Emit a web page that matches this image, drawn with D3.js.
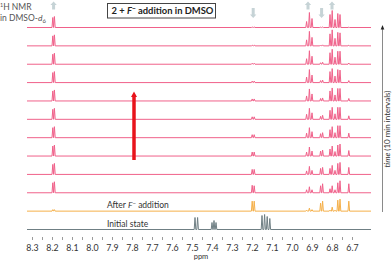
<!DOCTYPE html>
<html>
<head>
<meta charset="utf-8">
<script src="https://cdn.jsdelivr.net/npm/d3@7"></script>
<style>
  body { margin: 0; background: #fff; }
  svg { display: block; font-family: Lato, "Open Sans", sans-serif; }
</style>
</head>
<body>
<div id="chart"></div>
<script>
const width = 392, height = 260;

// axis
const tickLabels = [8.3, 8.2, 8.1, 8.0, 7.9, 7.8, 7.7, 7.6, 7.5, 7.4, 7.3, 7.2, 7.1, 7.0, 6.9, 6.8, 6.7];
const minorTicks = [8.25, 8.15, 8.05, 7.95, 7.85, 7.75, 7.65, 7.55, 7.45, 7.35, 7.25, 7.15, 7.05, 6.95, 6.85, 6.75];

// initial state (grey trace)
const initialPpm = [7.485, 7.472, 7.400, 7.390, 7.380, 7.150, 7.137, 7.124, 7.111];
const initialHeights = [12, 12, 7, 9, 7, 14, 15, 13, 11];

// peaks followed after F- addition (orange + pink traces)
const peakPpm = [8.196, 8.188, 7.199, 7.189, 6.927, 6.913, 6.900, 6.857, 6.847, 6.810, 6.799, 6.785, 6.771, 6.760, 6.716];
const afterAddition = [1.5, 1.5, 10, 10, 1, 3, 1.5, 8, 10, 1, 4, 1, 11, 12, 10];
// pink traces, 10 min apart, first to last
const timeHeights = [
  [10, 11, 7.5, 7, 3, 6, 3, 7, 9, 4, 7, 3, 10, 12, 9],
  [10, 11, 5, 5, 3.5, 8, 4, 6, 7, 6, 9, 4, 11, 12, 7],
  [10, 11, 4, 4, 4, 9, 5, 5, 6, 7, 10, 4.5, 11, 12, 5.5],
  [10, 11, 3, 3, 4.5, 10, 6, 4, 5, 8, 11, 5, 12, 12, 4.5],
  [10, 11, 2.5, 2.5, 5, 11, 6.5, 3, 4, 9, 12, 5.5, 12, 12, 3.5],
  [10, 11, 2, 2, 5, 12, 7, 2.5, 3, 10, 13, 6, 12.5, 12.5, 2.5],
  [10, 11, 1.5, 1.5, 5.5, 13, 7.5, 2, 2.5, 11, 14, 6.5, 13, 12.5, 2],
  [10, 11, 1, 1, 5.5, 13.5, 8, 1.5, 2, 11.5, 15, 7, 13, 13, 1.2],
  [10, 11, 0.7, 0.7, 6, 14.5, 8.5, 0.8, 1, 12, 16, 7.5, 13.5, 13, 0.6],
  [10, 11, 0.5, 0.5, 6, 15, 9, 0.3, 0.5, 13, 17, 8, 14, 13, 0.3]
];

// growing / shrinking signal markers
const growMarks = [8.192, 6.920, 6.800];
const shrinkMarks = [7.194, 6.852];

const traceNames = ["initial", "after"].concat(timeHeights.map((d, i) => "t" + (i + 1)));
const traceColor = name => name === "initial" ? "#6f7f84" : name === "after" ? "#f5b04a" : "#f0618a";

const x = d3.scaleLinear().domain([8.3, 6.7]).range([32, 352]);
const yBase = d3.scalePoint().domain(traceNames).range([229.5, 27.5]);
const amp = d3.scaleLinear().domain([0, 10]).range([0, 10]);
const ppmExtent = [8.325, 6.605];
const halfWidth = 0.004;

const svg = d3.select("#chart").append("svg")
  .attr("width", width)
  .attr("height", height);

function tracePoints(ppms, heights) {
  const peaks = ppms.map((p, i) => ({ p: p, h: heights[i] }))
    .sort((a, b) => b.p - a.p);
  const pts = [[ppmExtent[0], 0]];
  peaks.forEach(d => {
    pts.push([d.p + halfWidth, 0], [d.p, d.h], [d.p - halfWidth, 0]);
  });
  pts.push([ppmExtent[1], 0]);
  return pts;
}

const traces = [{ name: "initial", pts: tracePoints(initialPpm, initialHeights) },
  { name: "after", pts: tracePoints(peakPpm, afterAddition) }]
  .concat(timeHeights.map((h, i) => ({ name: "t" + (i + 1), pts: tracePoints(peakPpm, h) })));

svg.append("g").selectAll("path")
  .data(traces)
  .enter().append("path")
    .attr("fill", "none")
    .attr("stroke", d => traceColor(d.name))
    .attr("stroke-width", 1)
    .attr("stroke-linejoin", "round")
    .attr("d", d => d3.line()
      .x(p => x(p[0]))
      .y(p => yBase(d.name) - amp(p[1]))(d.pts));

// x axis: minor ticks + labels, no domain line
const minor = svg.append("g")
  .attr("transform", "translate(0,237)")
  .call(d3.axisBottom(x).tickValues(tickLabels.concat(minorTicks)).tickSize(3).tickFormat(""));
minor.select(".domain").remove();
minor.selectAll("line").attr("stroke", "#9a9a9a");

const labels = svg.append("g")
  .attr("transform", "translate(0,237)")
  .call(d3.axisBottom(x).tickValues(tickLabels).tickSize(0).tickPadding(8).tickFormat(d3.format(".1f")));
labels.select(".domain").remove();
labels.selectAll("text")
  .attr("font-family", "Lato, sans-serif")
  .attr("font-size", 8.8)
  .attr("fill", "#333");

svg.append("text")
  .attr("x", 201).attr("y", 258.5)
  .attr("text-anchor", "middle")
  .attr("font-size", 7.5)
  .attr("fill", "#333")
  .text("ppm");

// trace labels
svg.append("text")
  .attr("x", 107).attr("y", 208)
  .attr("font-size", 8.5).attr("fill", "#333")
  .call(t => {
    t.append("tspan").text("After ");
    t.append("tspan").attr("font-style", "italic").text("F");
    t.append("tspan").attr("dy", -3).attr("font-size", 6).text("−");
    t.append("tspan").attr("dy", 3).text(" addition");
  });

svg.append("text")
  .attr("x", 107).attr("y", 226.5)
  .attr("font-size", 8.5).attr("fill", "#333")
  .text("Initial state");

// title box
svg.append("rect")
  .attr("x", 107.5).attr("y", 3.5)
  .attr("width", 108).attr("height", 14.5)
  .attr("fill", "#fff")
  .attr("stroke", "#444");

svg.append("text")
  .attr("x", 111.5).attr("y", 14.2)
  .attr("font-size", 9.4).attr("font-weight", "bold").attr("fill", "#222")
  .call(t => {
    t.append("tspan").text("2 + ");
    t.append("tspan").attr("font-style", "italic").text("F");
    t.append("tspan").attr("dy", -3.5).attr("font-size", 6.5).text("−");
    t.append("tspan").attr("dy", 3.5).text(" addition in DMSO");
  });

// top-left note
svg.append("text")
  .attr("x", 0).attr("y", 9.5)
  .attr("font-size", 8.5).attr("fill", "#555")
  .call(t => {
    t.append("tspan").attr("dy", -3).attr("font-size", 5.5).text("1");
    t.append("tspan").attr("dy", 3).text("H NMR");
  });
svg.append("text")
  .attr("x", 0).attr("y", 20.5)
  .attr("font-size", 8.5).attr("fill", "#555")
  .call(t => {
    t.append("tspan").text("in DMSO-");
    t.append("tspan").attr("font-style", "italic").text("d");
    t.append("tspan").attr("dy", 2.5).attr("font-size", 6).text("6");
  });

// grey block arrows marking changing signals
function blockArrow(cx, top, bottom, up) {
  const hw = 1.5, head = 3.2, hl = 3.5;
  if (up) {
    return `M${cx},${top} L${cx + head},${top + hl} L${cx + hw},${top + hl} L${cx + hw},${bottom}` +
      ` L${cx - hw},${bottom} L${cx - hw},${top + hl} L${cx - head},${top + hl} Z`;
  }
  return `M${cx},${bottom} L${cx + head},${bottom - hl} L${cx + hw},${bottom - hl} L${cx + hw},${top}` +
    ` L${cx - hw},${top} L${cx - hw},${bottom - hl} L${cx - head},${bottom - hl} Z`;
}

svg.append("g").selectAll("path")
  .data(growMarks)
  .enter().append("path")
    .attr("fill", "#c6d3d6")
    .attr("d", d => blockArrow(x(d), 1.5, 9.5, true));

svg.append("g").selectAll("path")
  .data(shrinkMarks)
  .enter().append("path")
    .attr("fill", "#c6d3d6")
    .attr("d", d => blockArrow(x(d), 8, 18, false));

// red arrow
svg.append("line")
  .attr("x1", x(7.79)).attr("x2", x(7.79))
  .attr("y1", 160).attr("y2", 96)
  .attr("stroke", "#e8141c").attr("stroke-width", 3.5);
svg.append("path")
  .attr("fill", "#e8141c")
  .attr("d", `M${x(7.79)},91.5 L${x(7.79) + 3},97 L${x(7.79) - 3},97 Z`);

// time axis on the right
svg.append("line")
  .attr("x1", 382.5).attr("x2", 382.5)
  .attr("y1", 212).attr("y2", 28)
  .attr("stroke", "#8a8a8a").attr("stroke-width", 1);
svg.append("path")
  .attr("fill", "#222")
  .attr("d", "M382.5,25 L384.3,29.5 L380.7,29.5 Z");

svg.append("text")
  .attr("transform", "translate(390,129) rotate(-90)")
  .attr("text-anchor", "middle")
  .attr("font-size", 8).attr("fill", "#333")
  .call(t => {
    t.append("tspan").attr("font-style", "italic").text("time");
    t.append("tspan").text(" (10 min intervals)");
  });
</script>
</body>
</html>
